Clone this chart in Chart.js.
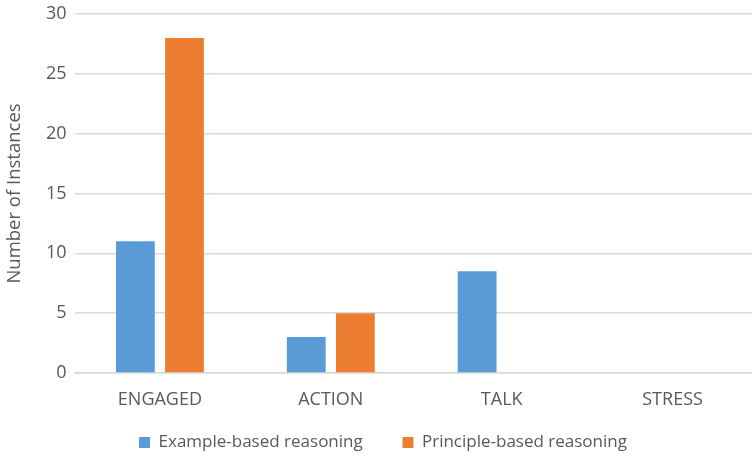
<!DOCTYPE html>
<html>
<head>
<meta charset="utf-8">
<script src="https://cdn.jsdelivr.net/npm/chart.js@4/dist/chart.umd.min.js"></script>
<style>
  html, body { margin: 0; padding: 0; background: #fff; overflow: hidden; }
  /* plot area runs a few pixels past the right edge; legend's spare bottom space falls below the window */
  #wrap { width: 758px; height: 461px; }
</style>
</head>
<body>
<div id="wrap"><canvas id="chart"></canvas></div>
<script>
// categories and counts per reasoning type
const categories = ['ENGAGED', 'ACTION', 'TALK', 'STRESS'];
const exampleBased = [11, 3, 8.5, 0];
const principleBased = [28, 5, 0, 0];
const yTicks = [0, 5, 10, 15, 20, 25, 30];

const textColor = '#595959';
const gridColor = '#d9d9d9';
const fontFamily = "'Open Sans', 'Noto Sans', sans-serif";

const barStyle = {
  borderWidth: 0,
  barPercentage: 0.79,
  categoryPercentage: 0.575
};

// wider gap between legend entries without making the legend taller
const legendGap = '         ';
const defaultLabels = Chart.defaults.plugins.legend.labels.generateLabels;

new Chart(document.getElementById('chart'), {
  type: 'bar',
  data: {
    labels: categories,
    datasets: [
      Object.assign({ label: 'Example-based reasoning', data: exampleBased, backgroundColor: '#5b9bd5' }, barStyle),
      Object.assign({ label: 'Principle-based reasoning', data: principleBased, backgroundColor: '#ed7d31' }, barStyle)
    ]
  },
  options: {
    responsive: true,
    maintainAspectRatio: false,
    animation: false,
    layout: { padding: { top: 14, right: 0, bottom: 0, left: 8 } },
    plugins: {
      legend: {
        position: 'bottom',
        labels: {
          color: textColor,
          boxWidth: 11,
          boxHeight: 11,
          padding: 0,
          font: { family: fontFamily, size: 17 },
          generateLabels: chart => defaultLabels(chart).map((item, i, all) => {
            if (i < all.length - 1) item.text += legendGap;
            return item;
          })
        }
      },
      tooltip: { enabled: false }
    },
    scales: {
      x: {
        afterFit: axis => { axis.height = 61; },
        grid: { display: false, drawTicks: false },
        border: { display: true, color: gridColor, width: 1.5 },
        ticks: {
          color: textColor,
          padding: 16,
          font: { family: fontFamily, size: 18 }
        }
      },
      y: {
        min: 0,
        max: 30,
        afterBuildTicks: axis => { axis.ticks = yTicks.map(v => ({ value: v })); },
        afterFit: axis => {
          axis.width = 66.5;
          axis.paddingTop = 0;
        },
        grid: { color: gridColor, lineWidth: 1.5, drawTicks: false },
        border: { display: false },
        ticks: {
          color: textColor,
          padding: 8,
          font: { family: fontFamily, size: 18 }
        },
        title: {
          display: true,
          text: 'Number of Instances',
          color: textColor,
          padding: { top: -4, bottom: 0 },
          font: { family: fontFamily, size: 18.5 }
        }
      }
    }
  }
});
</script>
</body>
</html>
